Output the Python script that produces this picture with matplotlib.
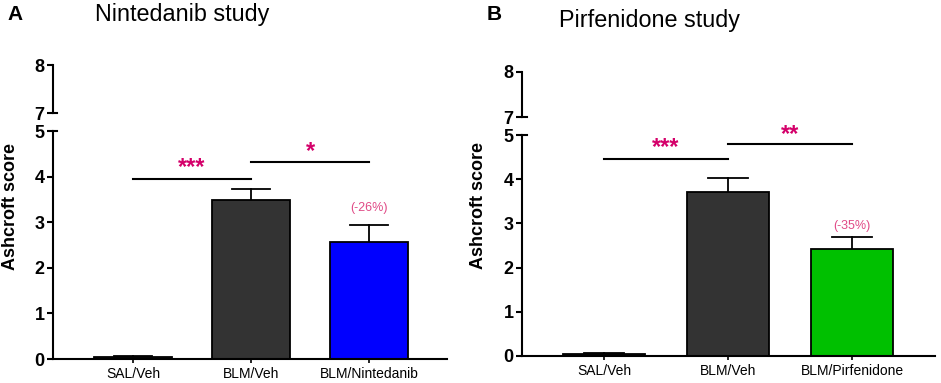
import matplotlib
matplotlib.use("Agg")
import matplotlib.pyplot as plt
import matplotlib.transforms as mtransforms

plt.rcParams['font.family'] = ['Liberation Sans', 'DejaVu Sans']

# Data
groups_a = ["SAL/Veh", "BLM/Veh", "BLM/Nintedanib"]
means_a = [0.04, 3.48, 2.57]
errs_a = [0.02, 0.24, 0.37]
colors_a = ["#333333", "#333333", "#0000FF"]

groups_b = ["SAL/Veh", "BLM/Veh", "BLM/Pirfenidone"]
means_b = [0.04, 3.71, 2.41]
errs_b = [0.02, 0.32, 0.29]
colors_b = ["#333333", "#333333", "#00C000"]

sig_a = [(0, 1, 3.95, "***", 4.19), (1, 2, 4.33, "*", 4.56)]
sig_b = [(0, 1, 4.46, "***", 4.71), (1, 2, 4.80, "**", 5.02)]
pct_a = ("(-26%)", 2, 3.31)
pct_b = ("(-35%)", 2, 2.94)

PINK = "#D4006A"
PINK_LIGHT = "#E04A86"

fig = plt.figure(figsize=(9.41, 3.83), dpi=100)


def panel(rect_low, rect_up, groups, means, errs, colors, sigs, pct, xlim,
          title, title_xy, letter, letter_xy, ylabel_xy):
    axl = fig.add_axes(rect_low)
    axu = fig.add_axes(rect_up)
    x = list(range(len(groups)))
    axl.bar(x, means, width=0.66, color=colors, edgecolor="black", linewidth=1.3, zorder=2)
    for xi, m, e in zip(x, means, errs):
        axl.plot([xi, xi], [m, m + e], color="black", lw=1.3, zorder=1)
        axl.plot([xi - 0.16, xi + 0.16], [m + e, m + e], color="black", lw=1.3, zorder=3)
    axl.set_xlim(*xlim)
    axl.set_ylim(0, 5)
    axl.set_yticks([0, 1, 2, 3, 4, 5])
    axl.set_xticks(x)
    axl.set_xticklabels(groups, fontsize=10)
    for s in ["top", "right"]:
        axl.spines[s].set_visible(False)
    for s in ["left", "bottom"]:
        axl.spines[s].set_linewidth(1.5)
    axl.tick_params(axis="y", length=4, width=1.5, labelsize=13, pad=2)
    axl.tick_params(axis="x", length=3, width=1.2, pad=3)
    for lab in axl.get_yticklabels():
        lab.set_fontweight("bold")
    axl.set_ylabel("Ashcroft score", fontsize=13, fontweight="bold")
    axl.yaxis.set_label_coords(*ylabel_xy)
    for x0, x1, yl, txt, yt in sigs:
        axl.plot([x0, x1], [yl, yl], color="black", lw=1.5, clip_on=False)
        axl.text((x0 + x1) / 2, yt, txt, color=PINK, fontsize=17, fontweight="bold",
                 ha="center", va="center", clip_on=False)
    axl.text(pct[1], pct[2], pct[0], color=PINK_LIGHT, fontsize=9, ha="center", va="center")
    # upper axis
    axu.set_xlim(*xlim)
    axu.set_ylim(7, 8)
    axu.set_yticks([7, 8])
    axu.set_xticks([])
    for s in ["top", "right", "bottom"]:
        axu.spines[s].set_visible(False)
    axu.spines["left"].set_linewidth(1.5)
    axu.tick_params(axis="y", length=4, width=1.5, labelsize=13, pad=2)
    for lab in axu.get_yticklabels():
        lab.set_fontweight("bold")
    axu.patch.set_visible(False)
    # break marks
    tu = mtransforms.blended_transform_factory(axu.transAxes, axu.transData)
    axu.plot([0, 0.011], [7, 7], color="black", lw=1.5, transform=tu, clip_on=False)
    tl = mtransforms.blended_transform_factory(axl.transAxes, axl.transData)
    axl.plot([0, 0.011], [5, 5], color="black", lw=1.5, transform=tl, clip_on=False)
    fig.text(title_xy[0], title_xy[1], title, fontsize=16.8, ha="left", va="center")
    fig.text(letter_xy[0], letter_xy[1], letter, fontsize=15, fontweight="bold",
             ha="left", va="center")


panel([53 / 941, 24 / 383, 394 / 941, 228 / 383],
      [53 / 941, 270 / 383, 394 / 941, 48 / 383],
      groups_a, means_a, errs_a, colors_a, sig_a, pct_a, (-0.678, 2.66),
      "Nintedanib study", (95 / 941, 1 - 15 / 383), "A", (7 / 941, 1 - 15 / 383), (-0.086, 0.67))

panel([522 / 941, 27 / 383, 413 / 941, 221 / 383],
      [522 / 941, 266 / 383, 413 / 941, 45 / 383],
      groups_b, means_b, errs_b, colors_b, sig_b, pct_b, (-0.661, 2.669),
      "Pirfenidone study", (559 / 941, 1 - 20 / 383), "B", (487 / 941, 1 - 15 / 383), (-0.085, 0.68))

fig.savefig("out.png", dpi=100)
